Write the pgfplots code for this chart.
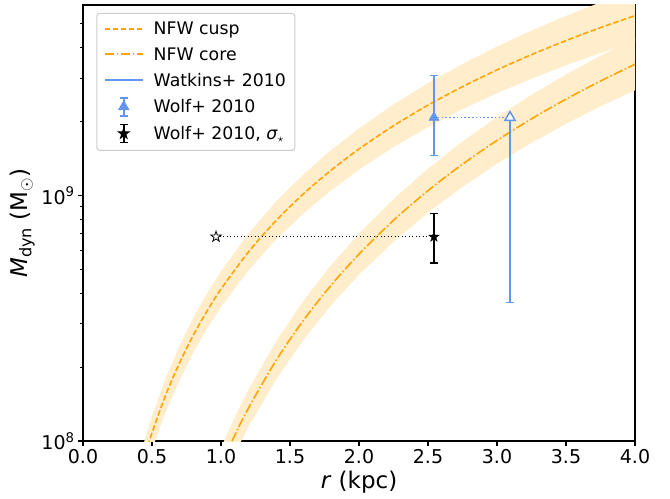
\documentclass[border=0pt]{standalone}
\usepackage{fontspec}
\setmainfont{DejaVu Sans}
\usepackage{pgfplots}
\pgfplotsset{compat=1.18}
\usepackage{pgfplotstable}
\usepgfplotslibrary{fillbetween}
\usetikzlibrary{plotmarks}
\definecolor{nfw}{HTML}{FFA500}
\definecolor{bandc}{HTML}{FFEDCC}
\definecolor{cfb}{HTML}{6495ED}

\pgfdeclareplotmark{fivestar}{%
  \pgfpathmoveto{\pgfpointpolar{90}{\pgfplotmarksize}}%
  \pgfpathlineto{\pgfpointpolar{126}{0.382\pgfplotmarksize}}%
  \pgfpathlineto{\pgfpointpolar{162}{\pgfplotmarksize}}%
  \pgfpathlineto{\pgfpointpolar{198}{0.382\pgfplotmarksize}}%
  \pgfpathlineto{\pgfpointpolar{234}{\pgfplotmarksize}}%
  \pgfpathlineto{\pgfpointpolar{270}{0.382\pgfplotmarksize}}%
  \pgfpathlineto{\pgfpointpolar{306}{\pgfplotmarksize}}%
  \pgfpathlineto{\pgfpointpolar{342}{0.382\pgfplotmarksize}}%
  \pgfpathlineto{\pgfpointpolar{18}{\pgfplotmarksize}}%
  \pgfpathlineto{\pgfpointpolar{54}{0.382\pgfplotmarksize}}%
  \pgfpathclose
  \pgfusepathqfillstroke
}

% NFW cusp: r [kpc], log10 M
\pgfplotstableread{
r lm
0.35 7.7284
0.40 7.8427
0.45 7.9434
0.50 8.0332
0.60 8.1883
0.70 8.3189
0.80 8.4316
0.90 8.5306
1.00 8.6189
1.20 8.7708
1.40 8.8984
1.60 9.0080
1.80 9.1041
2.00 9.1894
2.25 9.2841
2.50 9.3681
2.75 9.4434
3.00 9.5116
3.25 9.5738
3.50 9.6310
3.75 9.6837
4.00 9.7327
4.10 9.7514
}\cusp

% NFW core: r [kpc], log10 M
\pgfplotstableread{
r lm
0.90 7.7614
1.00 7.9000
1.10 8.0236
1.20 8.1351
1.40 8.3291
1.60 8.4936
1.80 8.6360
2.00 8.7613
2.25 8.8989
2.50 9.0198
2.75 9.1275
3.00 9.2243
3.25 9.3122
3.50 9.3925
3.75 9.4663
4.00 9.5346
4.10 9.5605
}\core

\begin{document}
\begin{tikzpicture}
\begin{axis}[
  scale only axis, width=552bp, height=436bp,
  xmin=0, xmax=4, ymode=log, ymin=1e8, ymax=5.97e9,
  xtick={0,0.5,1,1.5,2,2.5,3,3.5,4},
  ytick={1e8,1e9}, yticklabels={10\textsuperscript{8},10\textsuperscript{9}},
  minor ytick={2e8,3e8,4e8,5e8,6e8,7e8,8e8,9e8,2e9,3e9,4e9,5e9},
  axis line style={line width=1.1bp},
  every tick/.style={black, line width=1.1bp},
  minor tick style={line width=0.8bp},
  major tick length=4.9bp, minor tick length=2.8bp,
  tick align=outside, xtick pos=bottom, ytick pos=left,
  tick label style={font=\fontsize{19bp}{22bp}\selectfont},
  label style={font=\fontsize{23bp}{27bp}\selectfont},
  /pgf/number format/assume math mode=true,
  xticklabel style={/pgf/number format/.cd, fixed, fixed zerofill, precision=1},
  xlabel={\textit{r} (kpc)},
  ylabel={\textit{M}\textsubscript{dyn} (M$_{\odot}$)},
  legend cell align=left,
  legend style={at={(0.024,0.982)}, anchor=north west, draw=black!20, line width=1bp,
    rounded corners=3bp, fill=white, font=\fontsize{17.3bp}{20bp}\selectfont,
    row sep=7.3bp, column sep=8bp, inner xsep=7bp, inner ysep=7bp},
]
% bands
\addplot[name path=cuU, draw=none, forget plot] table[x=r, y expr={10^(\thisrow{lm}+0.062+0.011*\thisrow{r})}]{\cusp};
\addplot[name path=cuL, draw=none, forget plot] table[x=r, y expr={10^(\thisrow{lm}-0.062-0.011*\thisrow{r})}]{\cusp};
\addplot[bandc, forget plot] fill between[of=cuU and cuL];
\addplot[name path=coU, draw=none, forget plot] table[x=r, y expr={10^(\thisrow{lm}+0.062+0.011*\thisrow{r})}]{\core};
\addplot[name path=coL, draw=none, forget plot] table[x=r, y expr={10^(\thisrow{lm}-0.062-0.011*\thisrow{r})}]{\core};
\addplot[bandc, forget plot] fill between[of=coU and coL];

\addplot[nfw, line width=1.6bp, smooth, dash pattern=on 5.6bp off 2.4bp,
  legend image code/.code={\draw[nfw, line width=2bp, dash pattern=on 5.6bp off 2.4bp] (0bp,0.5bp) -- (38bp,0.5bp);}]
  table[x=r, y expr={10^(\thisrow{lm})}]{\cusp};
\addlegendentry{NFW cusp}
\addplot[nfw, line width=1.6bp, smooth, dash pattern=on 9.5bp off 2.4bp on 1.6bp off 2.4bp,
  legend image code/.code={\draw[nfw, line width=2bp, dash pattern=on 9.5bp off 2.4bp on 1.6bp off 2.4bp] (0bp,0.5bp) -- (38bp,0.5bp);}]
  table[x=r, y expr={10^(\thisrow{lm})}]{\core};
\addlegendentry{NFW core}

% dotted connectors
\addplot[cfb, line width=1.6bp, dash pattern=on 1.6bp off 2.2bp, forget plot]
  coordinates {(2.543,2.08e9) (3.094,2.08e9)};
\addplot[black, line width=1.4bp, dash pattern=on 1.4bp off 2.1bp, forget plot]
  coordinates {(0.964,6.79e8) (2.543,6.79e8)};

% Watkins+ 2010
\addplot[cfb, line width=1.5bp,
  legend image code/.code={\draw[cfb, line width=2bp] (0bp,0.5bp) -- (38bp,0.5bp);}]
  coordinates {(3.094,3.66e8) (3.094,2.08e9)};
\addlegendentry{Watkins+ 2010}
\addplot[cfb, only marks, mark=-, mark size=4bp, mark options={line width=1.5bp}, forget plot]
  coordinates {(3.094,3.66e8)};
\addplot[cfb, only marks, mark=triangle*, mark size=5.8bp, mark options={fill=white, line width=1.5bp}, forget plot]
  coordinates {(3.094,2.08e9)};

% Wolf+ 2010
\addplot[cfb, only marks, mark=triangle*, mark size=5.8bp, mark options={fill=cfb, draw=cfb},
  legend image code/.code={
    \draw[cfb, line width=1.5bp] (19bp,-9bp) -- (19bp,9bp) (15bp,-9bp) -- (23bp,-9bp) (15bp,9bp) -- (23bp,9bp);
    \draw[cfb, mark=triangle*, mark size=5.8bp, mark options={fill=cfb}] plot coordinates {(19bp,0bp)};},
  error bars/.cd, y dir=both, y explicit,
  error bar style={line width=1.5bp},
  error mark options={rotate=90, mark size=4bp, line width=1.5bp}]
  coordinates {(2.543,2.08e9) += (0,1.00e9) -= (0,0.622e9)};
\addlegendentry{Wolf+ 2010}

% open star
\addplot[black, only marks, mark=fivestar, mark size=5.5bp, mark options={fill=white, line width=0.8bp}, forget plot]
  coordinates {(0.964,6.79e8)};

% Wolf+ 2010, sigma_star
\addplot[black, only marks, mark=fivestar, mark size=5.5bp, mark options={fill=black},
  legend image code/.code={
    \draw[black, line width=1.5bp] (19bp,-9bp) -- (19bp,9bp) (15bp,-9bp) -- (23bp,-9bp) (15bp,9bp) -- (23bp,9bp);
    \draw[black, mark=fivestar, mark size=5.5bp, mark options={fill=black}] plot coordinates {(19bp,0bp)};},
  error bars/.cd, y dir=both, y explicit,
  error bar style={line width=1.5bp},
  error mark options={rotate=90, mark size=4bp, line width=1.5bp}]
  coordinates {(2.543,6.79e8) += (0,1.67e8) -= (0,1.47e8)};
\addlegendentry{Wolf+ 2010, \textit{σ}$_{\star}$}
\end{axis}
\pgfresetboundingbox
\path[use as bounding box] ([xshift=-83bp,yshift=-57bp]current axis.south west) rectangle ([xshift=35bp,yshift=5bp]current axis.north east);
\end{tikzpicture}
\end{document}
